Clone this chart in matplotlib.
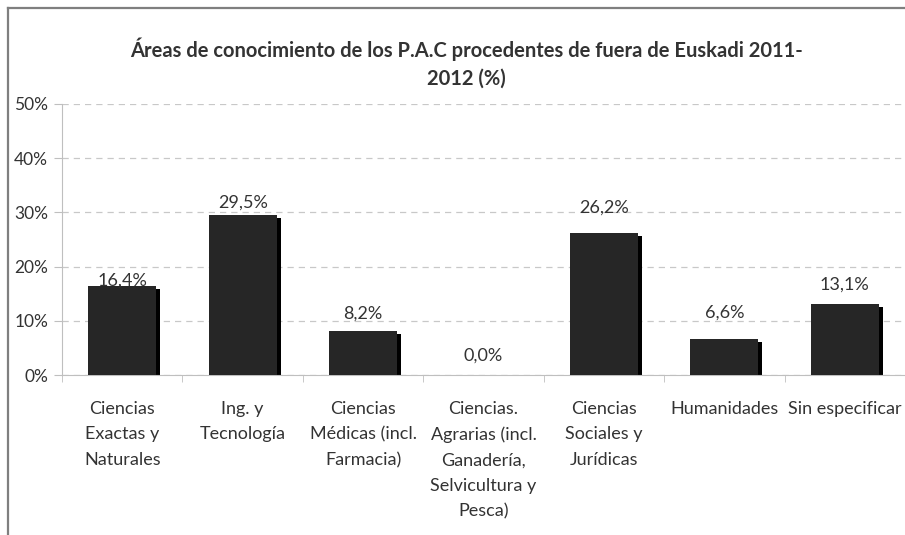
import matplotlib
matplotlib.use("Agg")
import matplotlib.pyplot as plt
from matplotlib.lines import Line2D

# data
categories = [
    "Ciencias\nExactas y\nNaturales",
    "Ing. y\nTecnología",
    "Ciencias\nMédicas (incl.\nFarmacia)",
    "Ciencias.\nAgrarias (incl.\nGanadería,\nSelvicultura y\nPesca)",
    "Ciencias\nSociales y\nJurídicas",
    "Humanidades",
    "Sin especificar",
]
values = [16.4, 29.5, 8.2, 0.0, 26.2, 6.6, 13.1]
yticks = [0, 10, 20, 30, 40, 50]

# label gaps above bars (points), as Excel placed them
label_gaps = [4, 9, 12, 14, 18, 19, 14]

plt.rcParams['font.family'] = ['Lato', 'DejaVu Sans']

fig = plt.figure(figsize=(9.05, 5.35), dpi=100)
ax = fig.add_axes([62 / 905, 1 - 375 / 535, 1 - 62 / 905, 271 / 535])

x = list(range(len(values)))
w = 0.565
# shadow first, then bar
dx = 4 / 120.4
dy = 3 / 271 * 50
ax.bar([i + dx for i in x], [max(v - dy, 0) for v in values], width=w,
       color='black', zorder=2)
ax.bar(x, values, width=w, color='#262626', zorder=3)

for i, v in enumerate(values):
    ax.annotate(f"{v:.1f}%".replace('.', ','), (i, v), xytext=(0, label_gaps[i]),
                textcoords='offset points', ha='center', va='center',
                fontsize=13, color='#333333', zorder=4)

ax.set_xlim(-0.5, len(values) - 0.5)
ax.set_ylim(0, 50)
ax.set_yticks(yticks)
ax.set_yticklabels([f"{t}%" for t in yticks])
ax.set_xticks(x)
ax.set_xticklabels(categories, linespacing=1.7, va='top')
ax.set_xticks([i - 0.5 for i in range(len(values) + 1)], minor=True)

ax.tick_params(axis='x', which='major', length=0, pad=19, labelsize=13,
               labelcolor='#333333')
ax.tick_params(axis='x', which='minor', length=5, color='#bfbfbf')
ax.tick_params(axis='y', length=6, color='#bfbfbf', labelsize=12.5,
               labelcolor='#333333', pad=4)

ax.yaxis.grid(True, linestyle=(0, (5, 4)), color='#c8c8c8', linewidth=0.9)
ax.set_axisbelow(True)
for s in ['top', 'right']:
    ax.spines[s].set_visible(False)
ax.spines['left'].set_color('#bfbfbf')
ax.spines['bottom'].set_color('#bfbfbf')

fig.text(466 / 905, 1 - 63 / 535,
         "Áreas de conocimiento de los P.A.C procedentes de fuera de Euskadi 2011-\n2012 (%)",
         ha='center', va='center', fontsize=14.5, fontweight='bold',
         color='#333333', linespacing=1.45)

# outer frame (top and left only)
fig.add_artist(Line2D([8 / 905, 8 / 905], [0, 1 - 8 / 535], transform=fig.transFigure,
                      color='#7f7f7f', linewidth=1.6))
fig.add_artist(Line2D([8 / 905, 1], [1 - 8 / 535, 1 - 8 / 535], transform=fig.transFigure,
                      color='#7f7f7f', linewidth=1.6))

fig.savefig("out.png", dpi=100)
